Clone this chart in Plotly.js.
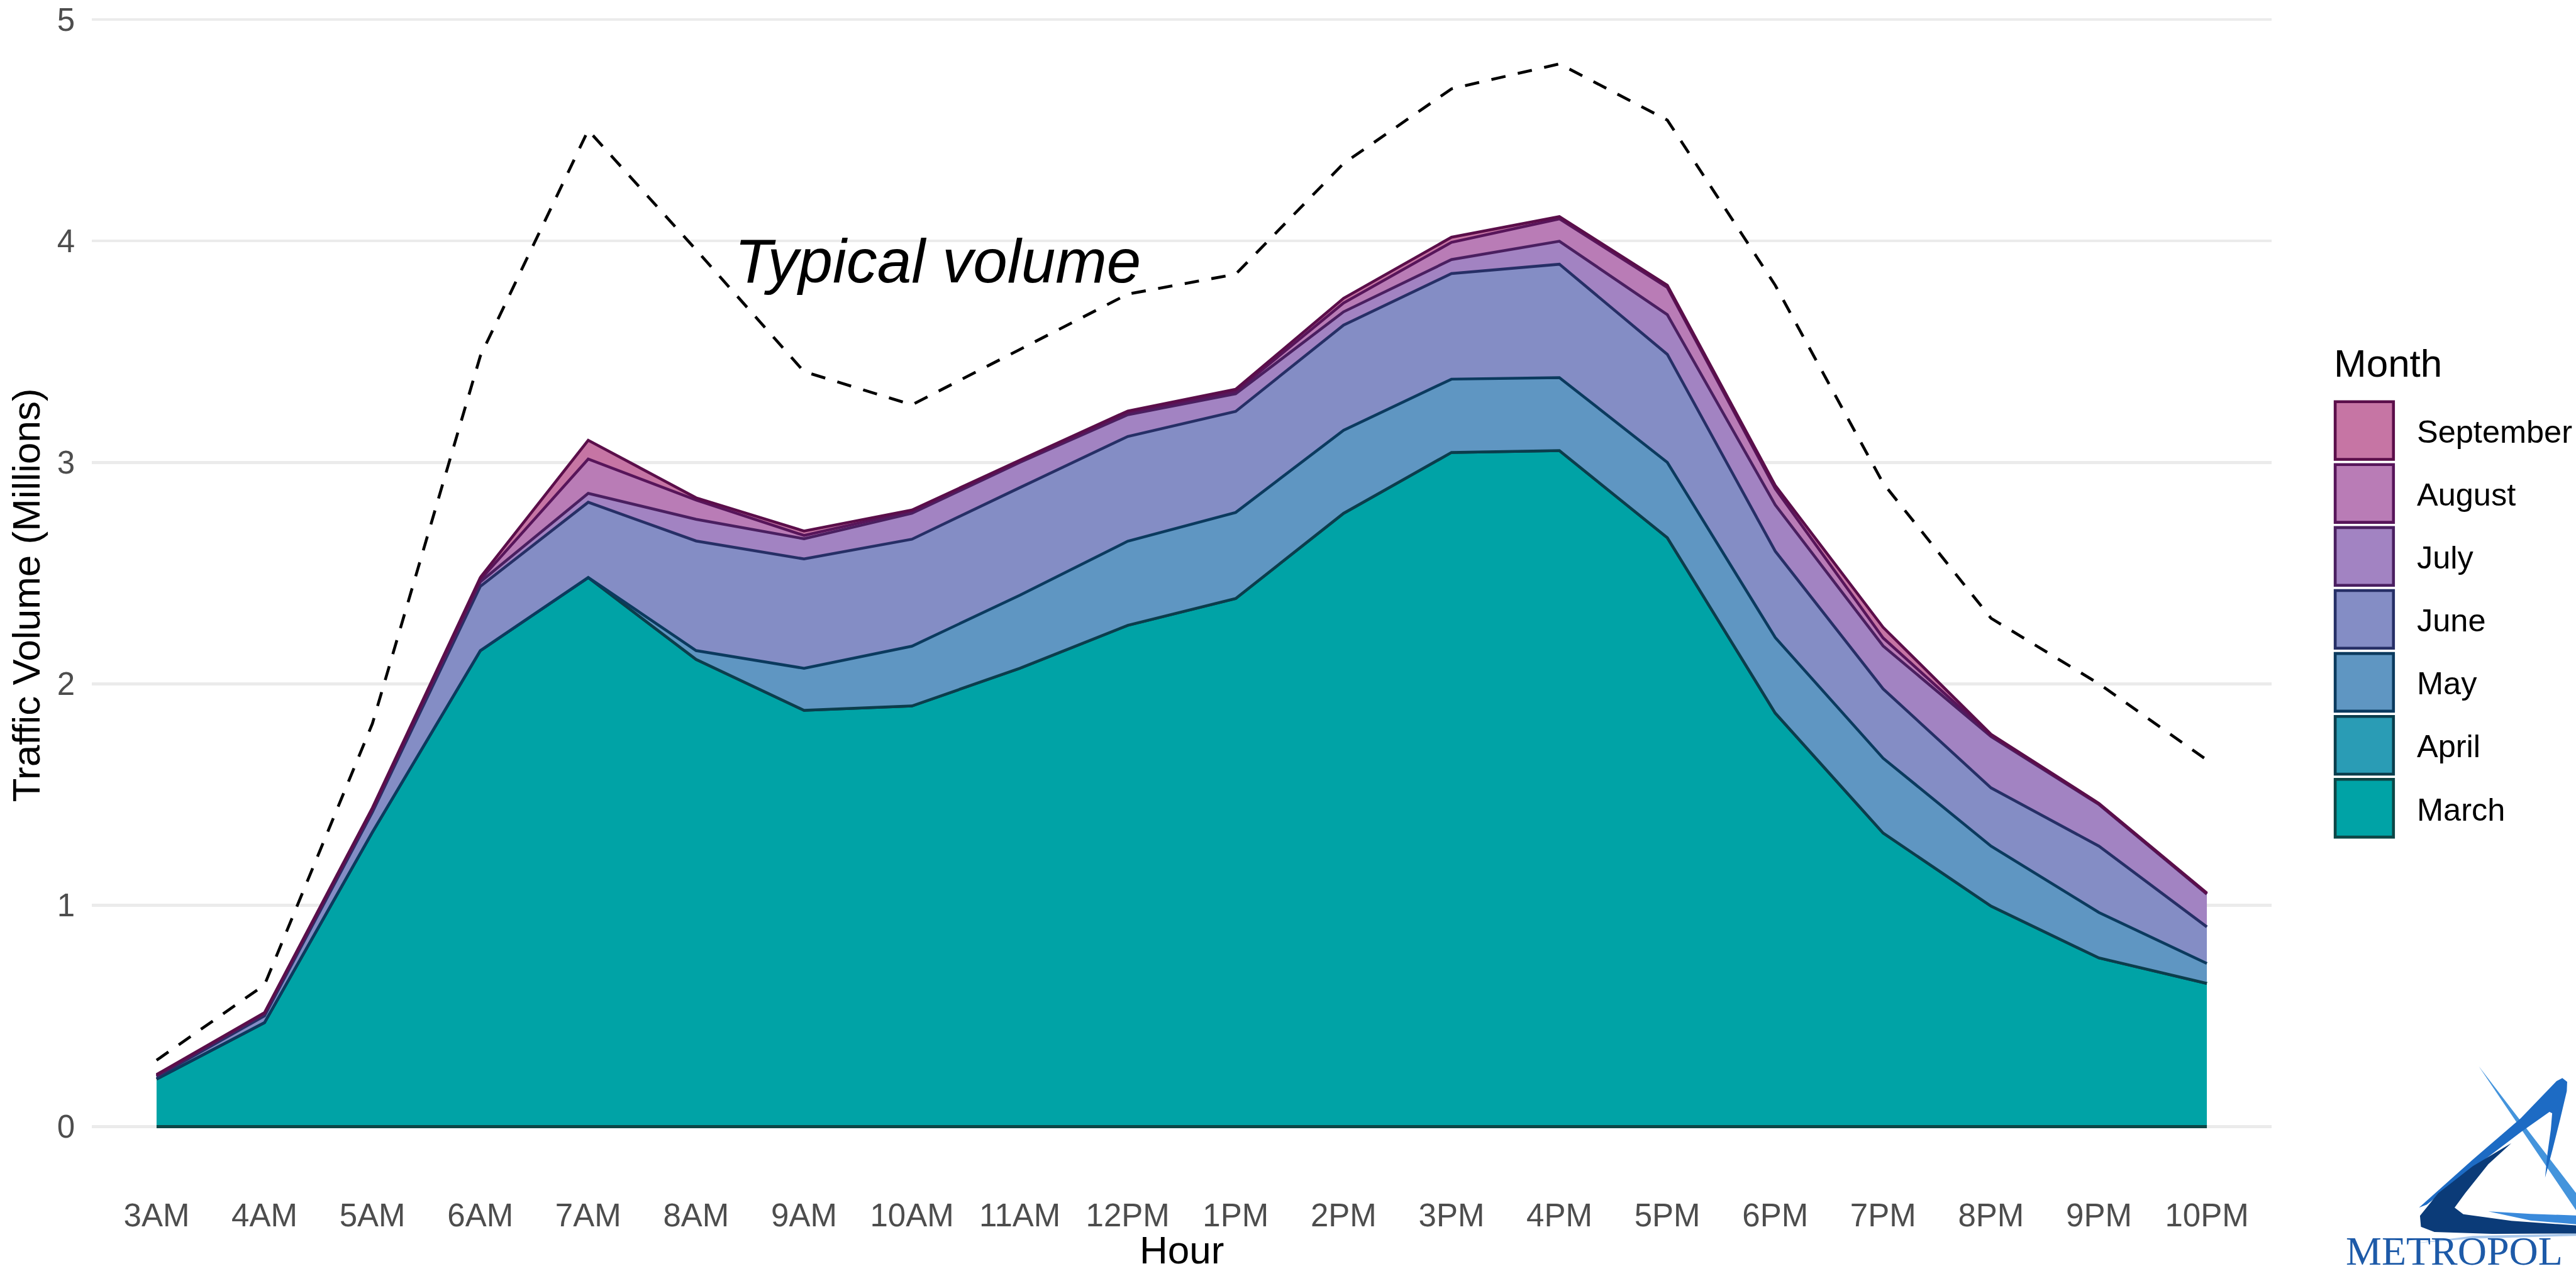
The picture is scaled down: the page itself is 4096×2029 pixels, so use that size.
<!DOCTYPE html>
<html><head><meta charset="utf-8">
<script src="https://cdn.plot.ly/plotly-3.0.1.min.js"></script>
<style>html,body{margin:0;padding:0;background:#fff;overflow:hidden}</style>
</head><body><div id="chart" style="width:4096px;height:2029px"></div>
<script>
// ---------- data (millions of vehicles) ----------
const hours = ['3AM','4AM','5AM','6AM','7AM','8AM','9AM','10AM','11AM','12PM','1PM','2PM','3PM','4PM','5PM','6PM','7PM','8PM','9PM','10PM'];
const march     = [0.215,0.470,1.330,2.150,2.480,2.110,1.880,1.900,2.070,2.264,2.385,2.770,3.045,3.053,2.660,1.868,1.326,0.996,0.762,0.647];
const april     = [0,0,0,0,0,0,0,0,0,0,0,0,0,0,0,0,0,0,0,0];
const may       = [0,0,0,0,0,0.040,0.190,0.270,0.330,0.380,0.389,0.375,0.331,0.330,0.340,0.341,0.338,0.271,0.205,0.090];
const june      = [0.010,0.030,0.090,0.290,0.340,0.495,0.494,0.483,0.486,0.473,0.456,0.475,0.477,0.512,0.488,0.390,0.313,0.263,0.300,0.165];
const july      = [0.005,0.010,0.010,0.020,0.040,0.098,0.091,0.117,0.114,0.098,0.080,0.060,0.063,0.104,0.179,0.209,0.194,0.232,0.188,0.148];
const august    = [0.002,0.002,0.005,0.010,0.155,0.087,0.015,0.010,0.005,0.010,0.010,0.040,0.078,0.101,0.123,0.073,0.036,0.005,0.002,0.002];
const september = [0.003,0.003,0.005,0.010,0.085,0.010,0.020,0.005,0.005,0.007,0.010,0.021,0.023,0.010,0.010,0.015,0.048,0.005,0.003,0.003];
const typical   = [0.30,0.64,1.82,3.48,4.50,3.96,3.41,3.26,3.51,3.76,3.85,4.35,4.687,4.80,4.546,3.80,2.906,2.296,2.00,1.656];
const months    = ['March','April','May','June','July','August','September'];
const yTicks    = [0,1,2,3,4,5];

// ---------- styles ----------
const fillColors = ['#00A3A6','#2A9CB5','#5F96C2','#848DC5','#A283C2','#B97CB6','#C675A4'];
const lineColors = ['#0D4646','#0B3D4C','#0B3A5E','#262F66','#4A1F60','#57155A','#5B0E4A'];
const FONT = 'Liberation Sans, Arial, sans-serif';

const series = [march, april, may, june, july, august, september];
const traces = series.map((s, i) => ({
  x: hours, y: s, type: 'scatter', mode: 'lines', stackgroup: 'months',
  name: months[i], fillcolor: fillColors[i],
  line: {color: lineColors[i], width: 4.5}, showlegend: false, hoverinfo: 'skip'
}));
traces.push({x: hours, y: hours.map(() => 0), type: 'scatter', mode: 'lines',
  line: {color: lineColors[0], width: 5}, showlegend: false, hoverinfo: 'skip'});
traces.push({x: hours, y: typical, type: 'scatter', mode: 'lines', name: 'Typical volume',
  line: {color: '#000000', width: 4.6, dash: '23px,20px'}, showlegend: false, hoverinfo: 'skip'});

// ---------- geometry helpers (page pixels -> paper) ----------
const W = 4096, H = 2029;
const L = 145.5, R = 3612, T = 17, B = 1876;
const px = x => (x - L) / (R - L);
const py = y => 1 - (y - T) / (B - T);

// custom legend
const shapes = [];
const annotations = [];
annotations.push({xref: 'paper', yref: 'paper', x: px(3709), y: py(577), xanchor: 'left', yanchor: 'middle',
  text: 'Month', showarrow: false, font: {family: FONT, size: 62, color: '#000'}});
const legendOrder = [6,5,4,3,2,1,0];
legendOrder.forEach((m, i) => {
  const top = 636.4 + 100.1 * i;
  shapes.push({type: 'rect', xref: 'paper', yref: 'paper', layer: 'above',
    x0: px(3713.1), x1: px(3805.8), y0: py(top + 2.3), y1: py(top + 94.1),
    fillcolor: fillColors[m], line: {color: lineColors[m], width: 4.6}});
  annotations.push({xref: 'paper', yref: 'paper', x: px(3841), y: py(top + 50), xanchor: 'left', yanchor: 'middle',
    text: months[m], showarrow: false, font: {family: FONT, size: 50.5, color: '#000'}});
});

// x-axis title
annotations.push({xref: 'paper', yref: 'paper', x: 0.5, y: py(1987), xanchor: 'center', yanchor: 'middle',
  text: 'Hour', showarrow: false, font: {family: FONT, size: 62, color: '#000'}});

// logo (approximate drawing, coordinates in reference-crop units)
const lx = z => px(3626.1 + 0.306 * z);
const ly = z => py(1606.5 + 0.306 * z);
const pathOf = pts => 'M ' + pts.map(p => lx(p[0]) + ',' + ly(p[1])).join(' L ') + ' Z';
const logoParts = [
  {c: '#A9C8EC', pts: [[700,1210],[1000,1172],[1540,1160],[1540,1172],[1000,1186]]},
  {c: '#4494DC', pts: [[1030,290],[1540,955],[1540,1045]]},
  {c: '#1D6BC4', pts: [[720,1025],[1000,775],[1250,560],[1435,368],[1465,352],[1490,372],[1488,420],[1455,560],[1415,720],[1375,870],[1388,740],[1405,620],[1412,535],[1398,528],[1250,632],[1000,822],[760,1010]]},
  {c: '#0B3B78', pts: [[1200,690],[1000,810],[820,950],[725,1068],[730,1125],[800,1152],[1100,1162],[1540,1160],[1540,1118],[1200,1094],[950,1060],[905,1025],[960,950],[1080,800]]},
  {c: '#3A8ADB', pts: [[1080,1045],[1300,1058],[1540,1066],[1540,1112],[1300,1092]]}
];
logoParts.forEach(p => shapes.push({type: 'path', xref: 'paper', yref: 'paper', layer: 'above',
  path: pathOf(p.pts), fillcolor: p.c, line: {width: 0}}));
annotations.push({xref: 'paper', yref: 'paper', x: px(3728), y: py(2027), xanchor: 'left', yanchor: 'bottom',
  text: 'METROPOL', showarrow: false, font: {family: 'Liberation Serif, serif', size: 64, color: '#1D5AA8'}});

// in-plot label
annotations.push({xref: 'x', yref: 'y', x: 7.24, y: 3.91, xanchor: 'center', yanchor: 'middle',
  text: 'Typical volume', showarrow: false, font: {family: FONT, size: 98, color: '#000', style: 'italic'}});

const layout = {
  width: W, height: H,
  margin: {l: L, r: W - R, t: T, b: H - B, pad: 0},
  paper_bgcolor: '#FFFFFF', plot_bgcolor: '#FFFFFF',
  showlegend: false,
  xaxis: {type: 'category', range: [-0.6, 19.6], showgrid: false, zeroline: false, showline: false,
    ticks: '', ticklabelstandoff: 22, tickfont: {family: FONT, size: 51, color: '#4D4D4D'}},
  yaxis: {range: [-0.24, 5.04], tickvals: yTicks, ticktext: yTicks.map(String),
    showgrid: true, gridcolor: '#EBEBEB', gridwidth: 4.5, zeroline: false, showline: false,
    ticks: '', ticklabelstandoff: 26, tickfont: {family: FONT, size: 51, color: '#4D4D4D'},
    title: {text: 'Traffic Volume (Millions)', font: {family: FONT, size: 62, color: '#000'}, standoff: 6}},
  shapes: shapes,
  annotations: annotations
};

Plotly.newPlot('chart', traces, layout, {staticPlot: true, displayModeBar: false});
</script>
</body></html>
